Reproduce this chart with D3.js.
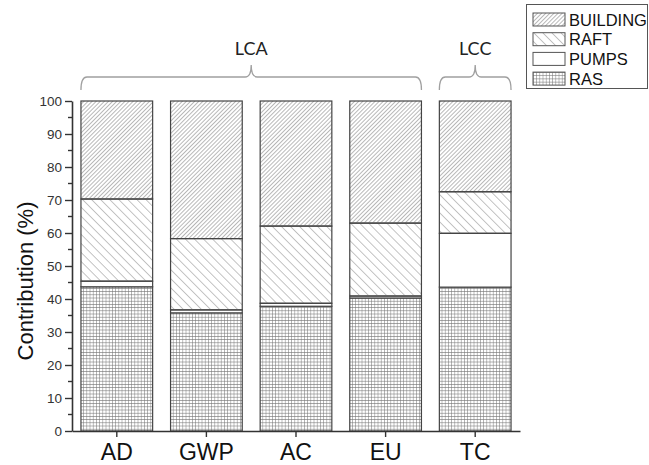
<!DOCTYPE html>
<html>
<head>
<meta charset="utf-8">
<script src="https://cdn.jsdelivr.net/npm/d3@7"></script>
<style>
  body { margin: 0; background: #fff; }
  svg { display: block; font-family: "Liberation Sans", Arial, sans-serif; }
</style>
</head>
<body>
<div id="chart"></div>
<script>
// data
var categories = ["AD", "GWP", "AC", "EU", "TC"];
var rasValues = [43.7, 35.8, 37.8, 40.3, 43.6];
var pumpsValues = [1.7, 0.9, 0.9, 0.6, 16.3];
var raftValues = [24.9, 21.6, 23.4, 22.1, 12.6];
var buildingValues = [29.7, 41.7, 37.9, 37.0, 27.5];
var seriesKeys = ["RAS", "PUMPS", "RAFT", "BUILDING"];
var legendKeys = ["BUILDING", "RAFT", "PUMPS", "RAS"];
var yTicks = [0, 10, 20, 30, 40, 50, 60, 70, 80, 90, 100];
var yMinorTicks = [5, 15, 25, 35, 45, 55, 65, 75, 85, 95];
var groups = [
    { label: "LCA", members: ["AD", "GWP", "AC", "EU"] },
    { label: "LCC", members: ["TC"] }
];

var w = 649;
var h = 465;
var plotLeft = 72, plotRight = 520, plotTop = 101, plotBottom = 431;

var fills = {
    "BUILDING": "url(#hatchBuilding)",
    "RAFT": "url(#hatchRaft)",
    "PUMPS": "#fff",
    "RAS": "url(#hatchRas)"
};

var dataset = categories.map(function(c, i) {
    return { cat: c, RAS: rasValues[i], PUMPS: pumpsValues[i], RAFT: raftValues[i], BUILDING: buildingValues[i] };
});

var xScale = d3.scaleBand().domain(categories).range([plotLeft, plotRight]).paddingInner(0.2).paddingOuter(0.1);
var yScale = d3.scaleLinear().domain([0, 100]).range([plotBottom, plotTop]);

var svg = d3.select("#chart").append("svg")
    .attr("width", w)
    .attr("height", h);

// hatch patterns
var defs = svg.append("defs");

defs.append("pattern")
    .attr("id", "hatchBuilding")
    .attr("patternUnits", "userSpaceOnUse")
    .attr("width", 2.9).attr("height", 10)
    .attr("patternTransform", "rotate(45)")
    .append("line")
    .attr("x1", 0).attr("y1", 0).attr("x2", 0).attr("y2", 10)
    .attr("stroke", "#808080").attr("stroke-width", 1.1);

defs.append("pattern")
    .attr("id", "hatchRaft")
    .attr("patternUnits", "userSpaceOnUse")
    .attr("width", 6.4).attr("height", 10)
    .attr("patternTransform", "rotate(-45)")
    .append("line")
    .attr("x1", 0).attr("y1", 0).attr("x2", 0).attr("y2", 10)
    .attr("stroke", "#8a8a8a").attr("stroke-width", 1);

var ras = defs.append("pattern")
    .attr("id", "hatchRas")
    .attr("patternUnits", "userSpaceOnUse")
    .attr("width", 3.2).attr("height", 3.2);
ras.append("rect").attr("width", 3.2).attr("height", 3.2).attr("fill", "#fff");
ras.append("path")
    .attr("d", "M0,0H3.2M0,0V3.2")
    .attr("stroke", "#777").attr("stroke-width", 1);

// bars
var stacked = d3.stack().keys(seriesKeys)(dataset);

svg.append("g")
    .selectAll("g")
    .data(stacked)
    .enter().append("g")
    .attr("fill", function(d) { return fills[d.key]; })
    .selectAll("rect")
    .data(function(d) { return d; })
    .enter().append("rect")
    .attr("x", function(d) { return xScale(d.data.cat); })
    .attr("y", function(d) { return yScale(d[1]); })
    .attr("width", xScale.bandwidth())
    .attr("height", function(d) { return yScale(d[0]) - yScale(d[1]); })
    .attr("stroke", "#444")
    .attr("stroke-width", 1.2);

// y axis
var yAxis = d3.axisLeft(yScale).tickValues(yTicks).tickSize(7).tickSizeOuter(0).tickPadding(3);
var gy = svg.append("g")
    .attr("transform", "translate(" + plotLeft + ",0)")
    .call(yAxis);
gy.select(".domain").attr("stroke", "#333").attr("stroke-width", 1.6);
gy.selectAll(".tick line").attr("stroke", "#333").attr("stroke-width", 1.4);
gy.selectAll(".tick text").attr("font-size", 13.5).attr("fill", "#333")
    .attr("font-family", "Liberation Sans, Arial, sans-serif");

svg.append("g")
    .attr("transform", "translate(" + plotLeft + ",0)")
    .selectAll("line")
    .data(yMinorTicks)
    .enter().append("line")
    .attr("x1", -4).attr("x2", 0)
    .attr("y1", function(d) { return yScale(d); })
    .attr("y2", function(d) { return yScale(d); })
    .attr("stroke", "#333").attr("stroke-width", 1.4);

// x axis
var xAxis = d3.axisBottom(xScale).tickSize(6).tickSizeOuter(0);
var gx = svg.append("g")
    .attr("transform", "translate(0," + plotBottom + ")")
    .call(xAxis);
gx.select(".domain").attr("stroke", "#333").attr("stroke-width", 1.6);
gx.selectAll(".tick line").attr("stroke", "#333").attr("stroke-width", 1.4);
gx.selectAll(".tick text")
    .attr("y", 29).attr("dy", 0)
    .attr("font-size", 23).attr("fill", "#111")
    .attr("font-family", "Liberation Sans, Arial, sans-serif");

// y title
svg.append("text")
    .attr("transform", "translate(33," + ((plotTop + plotBottom) / 2 + 15) + ") rotate(-90)")
    .attr("text-anchor", "middle")
    .attr("font-size", 22)
    .attr("fill", "#111")
    .text("Contribution (%)");

// group braces
function bracePath(x0, x1) {
    var mid = (x0 + x1) / 2;
    var yl = 77, ye = 90, yp = 65, r = 6;
    return "M" + x0 + "," + ye +
        "Q" + x0 + "," + yl + " " + (x0 + r) + "," + yl +
        "H" + (mid - r) +
        "Q" + mid + "," + yl + " " + mid + "," + yp +
        "Q" + mid + "," + yl + " " + (mid + r) + "," + yl +
        "H" + (x1 - r) +
        "Q" + x1 + "," + yl + " " + x1 + "," + ye;
}

groups.forEach(function(g) {
    var x0 = xScale(g.members[0]);
    var x1 = xScale(g.members[g.members.length - 1]) + xScale.bandwidth();
    svg.append("path")
        .attr("d", bracePath(x0, x1))
        .attr("fill", "none")
        .attr("stroke", "#a0a0a0")
        .attr("stroke-width", 1.3);
    svg.append("text")
        .attr("x", (x0 + x1) / 2)
        .attr("y", 55)
        .attr("text-anchor", "middle")
        .attr("font-family", "Lato, 'Open Sans', sans-serif")
        .attr("font-size", 18)
        .attr("fill", "#222")
        .text(g.label);
});

// legend
var legend = svg.append("g").attr("transform", "translate(526,4)");
legend.append("rect")
    .attr("x", 0.5).attr("y", 0.5)
    .attr("width", 121).attr("height", 84)
    .attr("fill", "#fff")
    .attr("stroke", "#555").attr("stroke-width", 1);

var items = legend.selectAll("g.item")
    .data(legendKeys)
    .enter().append("g")
    .attr("class", "item")
    .attr("transform", function(d, i) { return "translate(7," + (9 + i * 19.7) + ")"; });

items.append("rect")
    .attr("width", 32).attr("height", 13)
    .attr("fill", function(d) { return fills[d]; })
    .attr("stroke", "#555").attr("stroke-width", 1);

items.append("text")
    .attr("x", 36)
    .attr("y", 12.5)
    .attr("font-size", 16.5)
    .attr("fill", "#111")
    .text(function(d) { return d; });
</script>
</body>
</html>
